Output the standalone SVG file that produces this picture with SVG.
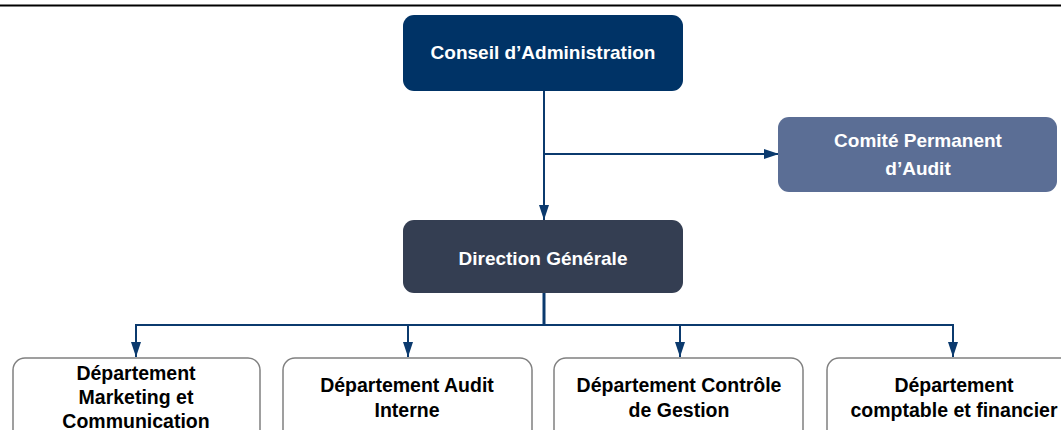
<svg xmlns="http://www.w3.org/2000/svg" width="1061" height="430" viewBox="0 0 1061 430">
<defs>
<style>
.t{font-family:"Liberation Sans",Arial,sans-serif;font-weight:bold;font-size:19px;text-anchor:middle}
.w{fill:#ffffff}
.k{fill:#000000;font-size:19.5px}
.dept{fill:#ffffff;stroke:#808080;stroke-width:1.5}
.ln{fill:none;stroke:#0b3a6e;stroke-width:2}
</style>
<marker id="ahb" viewBox="0 0 15 10" refX="15" refY="5" markerWidth="15" markerHeight="10" markerUnits="userSpaceOnUse" orient="auto">
<path d="M0,0 L15,5 L0,10 Z" fill="#0b3a6e"/>
</marker>
</defs>
<rect width="1061" height="430" fill="#ffffff"/>
<line x1="0" y1="5.5" x2="1061" y2="5.5" stroke="#000000" stroke-width="2"/>
<g id="connectors">
<path class="ln" d="M544,91 L544,220" marker-end="url(#ahb)"/>
<path class="ln" d="M544,154 L779,154" marker-end="url(#ahb)"/>
<path class="ln" d="M544,293 L544,325" style="stroke-width:3"/>
<path class="ln" d="M136,325 L953,325"/>
<path class="ln" d="M136,324 L136,357" marker-end="url(#ahb)"/>
<path class="ln" d="M408,324 L408,357" marker-end="url(#ahb)"/>
<path class="ln" d="M680,324 L680,357" marker-end="url(#ahb)"/>
<path class="ln" d="M953,324 L953,357" marker-end="url(#ahb)"/>
</g>
<g id="conseil">
<rect x="403" y="15" width="280" height="76" rx="11" fill="#003366"/>
<text class="t w" x="543" y="59">Conseil d’Administration</text>
</g>
<g id="comite">
<rect x="778" y="117" width="279" height="75" rx="11" fill="#5b6e95"/>
<text class="t w" x="918" y="147">Comité Permanent</text>
<text class="t w" x="918" y="175">d’Audit</text>
</g>
<g id="direction">
<rect x="403" y="220" width="280" height="73" rx="11" fill="#343e52"/>
<text class="t w" x="543" y="265">Direction Générale</text>
</g>
<g id="dept-marketing">
<rect class="dept" x="13" y="358" width="247" height="85" rx="12"/>
<text class="t k" x="136" y="380">Département</text>
<text class="t k" x="136" y="404">Marketing et</text>
<text class="t k" x="136" y="428">Communication</text>
</g>
<g id="dept-audit">
<rect class="dept" x="283" y="358" width="249" height="85" rx="12"/>
<text class="t k" x="407" y="392">Département Audit</text>
<text class="t k" x="407" y="417">Interne</text>
</g>
<g id="dept-controle">
<rect class="dept" x="554" y="358" width="249" height="85" rx="12"/>
<text class="t k" x="679" y="392">Département Contrôle</text>
<text class="t k" x="679" y="417">de Gestion</text>
</g>
<g id="dept-comptable">
<rect class="dept" x="827" y="358" width="250" height="85" rx="12"/>
<text class="t k" x="954" y="392">Département</text>
<text class="t k" x="954" y="417">comptable et financier</text>
</g>
</svg>
